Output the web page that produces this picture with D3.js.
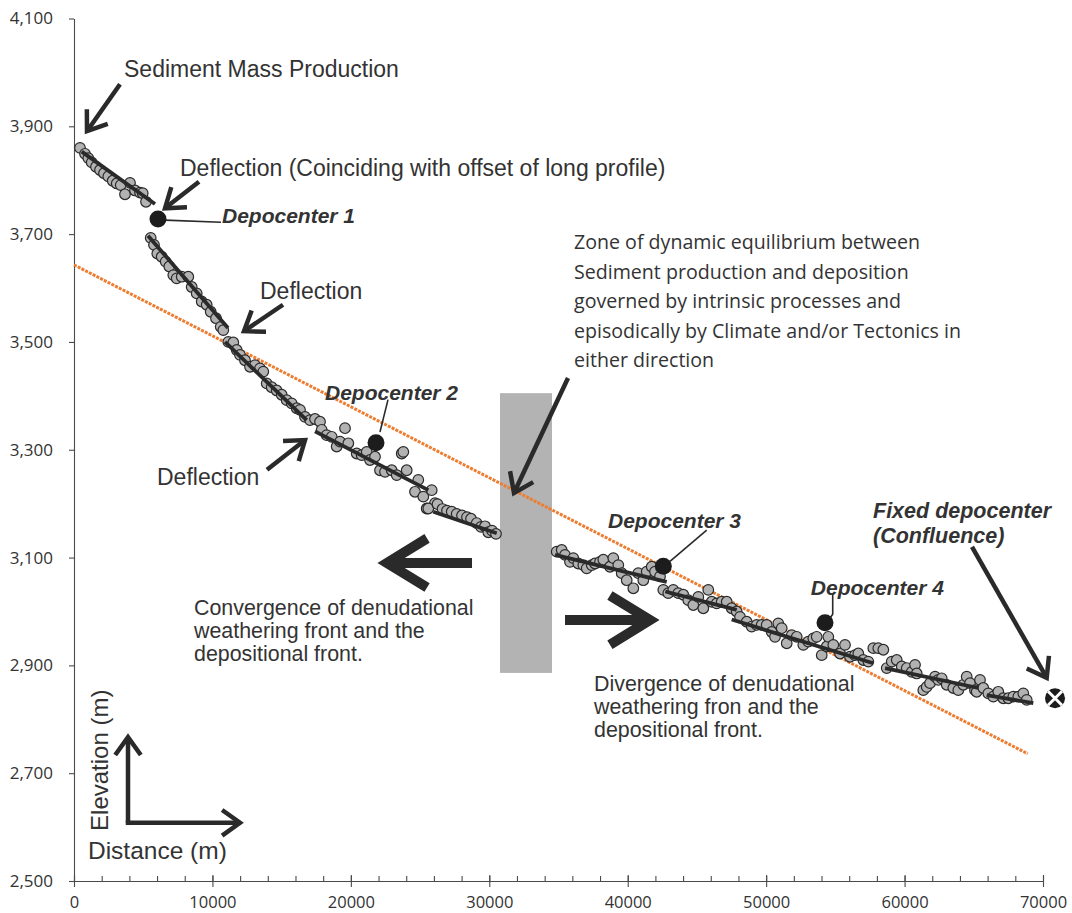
<!DOCTYPE html>
<html>
<head>
<meta charset="utf-8">
<script src="https://cdn.jsdelivr.net/npm/d3@7"></script>
<style>
  body { margin: 0; background: #fff; }
  svg { display: block; }
</style>
</head>
<body>
<svg id="chart" width="1072" height="913"></svg>
<script>
// ---- Axis settings -------------------------------------------------------
const xDomain = [0, 70000];
const yDomain = [2500, 4100];
const xMajorTicks = d3.range(0, 70001, 10000);
const xMinorTicks = d3.range(0, 70001, 2000);
const yMajorTicks = d3.range(2500, 4101, 200);
const yMinorTicks = d3.range(2500, 4101, 50);

// ---- Long profile: [distance (m), elevation (m)] per reach ---------------
const reach1 = [[433,3860],[795,3849],[1033,3841],[1279,3833],[1589,3825],[1878,3819],[2167,3813],[2478,3807],[2796,3799],[3085,3794],[3374,3791],[3684,3774],[4045,3795],[4407,3781],[4768,3777],[4963,3776],[5201,3760]];
const reach2 = [[5541,3693],[5779,3680],[6018,3664],[6335,3658],[6624,3649],[6885,3640],[7173,3624],[7419,3618],[7780,3621],[8257,3621],[8503,3602],[8864,3590],[9225,3575],[9586,3569],[9875,3556],[10258,3544],[10598,3528],[10785,3522]];
const reach3 = [[11147,3500],[11508,3499],[11754,3485],[11992,3476],[12353,3466],[12714,3454],[13075,3457],[13437,3451],[13675,3445],[13921,3423],[14282,3416],[14643,3410],[15004,3402],[15365,3392],[15727,3386],[16088,3377],[16326,3374],[16687,3361],[17049,3355],[17410,3357],[17771,3352]];
const reach4 = [[17894,3337],[18255,3327],[18616,3324],[18977,3306],[19216,3315],[19577,3340],[19815,3312],[20422,3293],[20783,3290],[21145,3296],[21383,3281],[21744,3287],[22105,3262],[22466,3259],[22950,3262],[23312,3253],[23673,3293],[23789,3296],[24034,3262],[24634,3222],[24872,3244],[25233,3213],[25479,3191],[25840,3225],[26079,3201]];
const reach5 = [[25594,3191],[26259,3199],[26620,3190],[26945,3187],[27285,3185],[27646,3181],[28029,3178],[28390,3175],[28679,3172],[29091,3164],[29402,3157],[29691,3158],[29929,3147],[30196,3150],[30485,3144]];
const reach6 = [[34870,3111],[35231,3114],[35470,3105],[35831,3092],[36070,3099],[36431,3089],[36792,3086],[37038,3080],[37399,3086],[37637,3089],[37998,3092],[38237,3096],[38721,3083],[38959,3099],[39321,3086],[39566,3071],[39927,3058],[40404,3043],[40765,3071],[41126,3058],[41372,3074],[41733,3083],[41971,3074],[42333,3065]];
const reach7 = [[42571,3040],[42932,3034],[43293,3040],[43654,3034],[44016,3031],[44377,3021],[44738,3012],[45099,3027],[45460,3006],[45821,3040],[46067,3018],[46428,3015],[46789,3018],[47151,3018],[47512,3006],[47873,3000]];
const reach8 = [[48112,2990],[48596,2981],[48957,2972],[49318,2975],[49679,2975],[50040,2975],[50402,2962],[50641,2953],[50879,2978],[51124,2969],[51486,2941],[51847,2956],[52208,2953],[52685,2938],[53046,2944],[53407,2950],[53653,2953],[54015,2919],[54376,2935],[54491,2953],[54853,2938],[55336,2922],[55697,2938],[56058,2916],[56419,2919],[56658,2922],[57019,2910],[57380,2907],[57742,2932],[58103,2932],[58464,2929]];
const reach9 = [[58711,2895],[59072,2907],[59433,2910],[59794,2898],[60155,2895],[60516,2888],[60755,2901],[60878,2885],[61354,2854],[61600,2860],[61838,2867],[62199,2879],[62438,2873],[62683,2876],[63044,2864],[63521,2858],[63882,2854],[64243,2864],[64489,2879],[64727,2867],[65088,2854],[65449,2873],[65210,2851]];
const reach10 = [[65687,2858],[66049,2848],[66410,2842],[66771,2851],[67132,2839],[67494,2839],[67855,2842],[68216,2842],[68577,2848],[68823,2836]];
const reaches = [reach1, reach2, reach3, reach4, reach5, reach6, reach7, reach8, reach9, reach10];

// Linear fit of each reach: [d0, e0, d1, e1]
const reachFits = [
  [556,3853,5851,3756],[5346,3697,11125,3526],[10908,3500,16810,3355],
  [17410,3334,25595,3225],[25956,3185,30536,3145],[34747,3105,42816,3055],
  [42716,3037,47873,3003],[47512,2985,57742,2904],[58590,2895,65330,2858],
  [65932,2845,69299,2830]
];

// Whole-profile regression line: [d0, e0, d1, e1]
const profileFit = [0, 3643, 68900, 2736];

// Depocenters: [distance, elevation]
const depocenters = [[6068,3728],[21816,3313],[42571,3084],[54252,2979]];
const fixedDepocenter = [70867, 2839];

// Zone of dynamic equilibrium: [d0, d1, e0, e1]
const equilibriumZone = [30775, 34530, 2886, 3405];

// ---- Annotation content (positions in distance / elevation units) --------
const zoneLines = ["Zone of dynamic equilibrium between", "Sediment production and deposition",
  "governed by intrinsic processes and", "episodically by Climate and/or Tectonics in", "either direction"];
const convergenceLines = ["Convergence of denudational", "weathering front and the", "depositional front."];
const divergenceLines = ["Divergence of denudational", "weathering fron and the", "depositional front."];
const fixedLines = ["Fixed depocenter", "(Confluence)"];

// ---- Scales --------------------------------------------------------------
const svg = d3.select("#chart");
const x = d3.scaleLinear().domain(xDomain).range([74, 1043]);
const y = d3.scaleLinear().domain(yDomain).range([881, 18.5]);

const INK = "#2a2a2a";
const TXT = "#333333";
const ARIAL = "'Liberation Sans', Arial, sans-serif";
const CAL = "'Open Sans', 'Noto Sans', sans-serif";

// ---- Axes ----------------------------------------------------------------
const gy = svg.append("g").attr("transform", `translate(${x(0)},0)`);
gy.call(d3.axisLeft(y).tickValues(yMinorTicks).tickSize(5).tickSizeOuter(0).tickFormat(""));
gy.call(d3.axisLeft(y).tickValues(yMajorTicks).tickSize(5).tickSizeOuter(0).tickPadding(16).tickFormat(d3.format(",")));
gy.selectAll("path.domain, line").attr("stroke", "#4a4a4a").attr("stroke-width", 1.1);
gy.selectAll("text").attr("font-family", CAL).attr("font-size", 17).attr("fill", TXT);

const gx = svg.append("g").attr("transform", `translate(0,${y(2500)})`);
gx.call(d3.axisBottom(x).tickValues(xMinorTicks).tickSize(-5).tickSizeOuter(0).tickFormat(""));
const gxMajor = svg.append("g").attr("transform", `translate(0,${y(2500)})`)
  .call(d3.axisBottom(x).tickValues(xMajorTicks).tickSize(6).tickSizeOuter(0).tickPadding(9).tickFormat(d3.format("d")));
gxMajor.selectAll(".tick line").attr("y1", -6);
[gx, gxMajor].forEach(g => g.selectAll("path.domain, line").attr("stroke", "#4a4a4a").attr("stroke-width", 1.1));
gxMajor.selectAll("text").attr("font-family", CAL).attr("font-size", 16.5).attr("fill", TXT);

// ---- Equilibrium zone ----------------------------------------------------
svg.append("rect")
  .attr("x", x(equilibriumZone[0]))
  .attr("y", y(equilibriumZone[3]))
  .attr("width", x(equilibriumZone[1]) - x(equilibriumZone[0]))
  .attr("height", y(equilibriumZone[2]) - y(equilibriumZone[3]))
  .attr("fill", "#b3b3b3");

// ---- Regression line -----------------------------------------------------
svg.append("line")
  .attr("x1", x(profileFit[0])).attr("y1", y(profileFit[1]))
  .attr("x2", x(profileFit[2])).attr("y2", y(profileFit[3]))
  .attr("stroke", "#ed7d31").attr("stroke-width", 3)
  .attr("stroke-dasharray", "3,1.2");

// ---- Profile points ------------------------------------------------------
svg.append("g").selectAll("circle")
  .data(reaches.flat())
  .join("circle")
  .attr("cx", d => x(d[0])).attr("cy", d => y(d[1])).attr("r", 5.3)
  .attr("fill", "#b2b2b2").attr("stroke", "#2a2a2a").attr("stroke-width", 1.2);

// ---- Reach fits ----------------------------------------------------------
svg.append("g").selectAll("line")
  .data(reachFits)
  .join("line")
  .attr("x1", d => x(d[0])).attr("y1", d => y(d[1]))
  .attr("x2", d => x(d[2])).attr("y2", d => y(d[3]))
  .attr("stroke", INK).attr("stroke-width", 3.8);

// ---- Arrows --------------------------------------------------------------
function arrow(d0, e0, d1, e1, width, head, spread) {
  const x0 = x(d0), y0 = y(e0), x1 = x(d1), y1 = y(e1);
  const ang = Math.atan2(y1 - y0, x1 - x0);
  const g = svg.append("g").attr("fill", "none").attr("stroke", INK).attr("stroke-width", width);
  const back = width * 0.6;
  g.append("line").attr("x1", x0).attr("y1", y0)
    .attr("x2", x1 - back * Math.cos(ang)).attr("y2", y1 - back * Math.sin(ang));
  const a1 = ang + Math.PI - spread, a2 = ang + Math.PI + spread;
  g.append("polyline")
    .attr("points", [[x1 + head * Math.cos(a1), y1 + head * Math.sin(a1)], [x1, y1],
                     [x1 + head * Math.cos(a2), y1 + head * Math.sin(a2)]].map(p => p.join(",")).join(" "))
    .attr("stroke-linejoin", "miter").attr("stroke-miterlimit", 10);
}

arrow(3323, 3978, 939, 3891, 4.5, 22, 0.62);     // sediment production
arrow(9030, 3797, 6574, 3748, 4.5, 22, 0.62);    // first deflection
arrow(15098, 3569, 12281, 3520, 4.5, 22, 0.62);  // second deflection
arrow(13942, 3263, 16687, 3318, 4.5, 22, 0.62);  // third deflection
arrow(35687, 3433, 31786, 3220, 4.5, 22, 0.62);  // equilibrium zone
arrow(28752, 3090, 22611, 3090, 10, 47, 0.55);   // convergence
arrow(35470, 2984, 41610, 2984, 10, 47, 0.55);   // divergence
arrow(64871, 3120, 70268, 2877, 4.5, 22, 0.62);  // confluence

// Axis direction glyph (elevation up, distance right)
arrow(3901, 2608, 3901, 2767, 4.5, 22, 0.62);
arrow(3901, 2608, 11992, 2608, 4.5, 22, 0.62);
svg.append("rect").attr("x", x(3901) - 2.25).attr("y", y(2608) - 2.25)
  .attr("width", 4.5).attr("height", 4.5).attr("fill", INK);

// ---- Depocenter leaders --------------------------------------------------
const leader = d3.line().x(d => x(d[0])).y(d => y(d[1]));
const leaders = [
  [[6574,3726],[10619,3722]],
  [[22683,3393],[22105,3333]],
  [[43054,3093],[45706,3151]],
  [[54809,3031],[54809,2995],[54450,2982]]
];
svg.append("g").selectAll("path").data(leaders).join("path")
  .attr("d", leader).attr("fill", "none").attr("stroke", INK).attr("stroke-width", 1.6);

// ---- Depocenter markers --------------------------------------------------
svg.append("g").selectAll("circle").data(depocenters).join("circle")
  .attr("cx", d => x(d[0])).attr("cy", d => y(d[1])).attr("r", 8.5).attr("fill", "#1c1c1c");

const fx = x(fixedDepocenter[0]), fy = y(fixedDepocenter[1]);
svg.append("circle").attr("cx", fx).attr("cy", fy).attr("r", 10).attr("fill", "#1c1c1c");
svg.append("path").attr("d", `M${fx-7},${fy-7}L${fx+7},${fy+7}M${fx-7},${fy+7}L${fx+7},${fy-7}`)
  .attr("stroke", "#fff").attr("stroke-width", 3);

// ---- Text ----------------------------------------------------------------
function label(d, e, text, opts = {}) {
  return svg.append("text")
    .attr("x", x(d)).attr("y", y(e)).attr("dy", "0.35em")
    .attr("font-family", opts.family || ARIAL)
    .attr("font-size", opts.size || 23)
    .attr("font-weight", opts.weight || "normal")
    .attr("font-style", opts.style || "normal")
    .attr("fill", TXT)
    .text(text);
}
function block(d, e, lines, lineHeightPx, opts) {
  const e0 = y(e);
  lines.forEach((t, i) => label(d, y.invert(e0 + i * lineHeightPx), t, opts));
}

label(3612, 4006, "Sediment Mass Production");
label(7657, 3823, "Deflection (Coinciding with offset of long profile)");
label(13437, 3595, "Deflection");
label(5996, 3250, "Deflection");

const bi = { size: 21, weight: "bold", style: "italic" };
label(10692, 3735, "Depocenter 1", bi);
label(18132, 3405, "Depocenter 2", bi);
label(38576, 3168, "Depocenter 3", bi);
label(53231, 3044, "Depocenter 4", bi);
block(57720, 3188, fixedLines, 25, { size: 21.5, weight: "bold", style: "italic" });

block(36120, 3685, zoneLines, 29.5, { family: CAL, size: 19.6 });
block(8669, 3008, convergenceLines, 23, { size: 21.4 });
block(37565, 2866, divergenceLines, 23, { size: 21.4 });

// Axis titles
svg.append("text")
  .attr("transform", `translate(${x(1878)},${y(2724)}) rotate(-90)`)
  .attr("text-anchor", "middle").attr("dy", "0.35em")
  .attr("font-family", ARIAL).attr("font-size", 24).attr("fill", TXT)
  .text("Elevation (m)");
label(1011, 2556, "Distance (m)", { size: 24.5 });
</script>
</body>
</html>
